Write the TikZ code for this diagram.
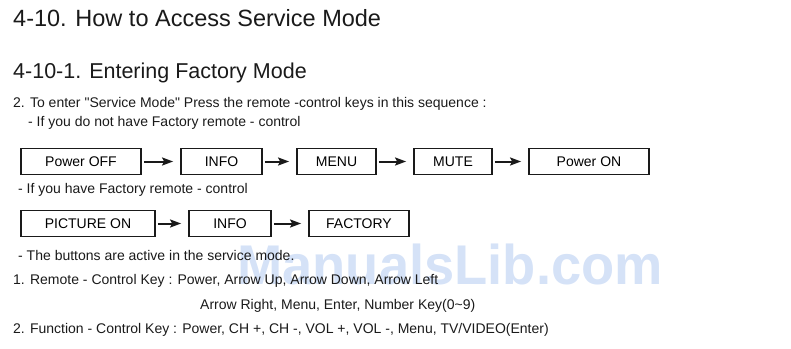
\documentclass[tikz,border=0pt]{standalone}
\usepackage{fontspec}
\setmainfont{Liberation Sans}
\usetikzlibrary{arrows.meta,positioning}
\usepackage{xcolor}
\definecolor{manualInk}{HTML}{1A1A1A}
\definecolor{manualMark}{HTML}{D5E2F7}

\tikzset{
  keybox/.style={draw=manualInk,line width=1.8pt,minimum height=26pt,inner sep=0pt,font=\fontsize{14}{16}\selectfont},
  keyarrow/.style={->,draw=manualInk,line width=2pt,shorten <=2pt,shorten >=7pt},
  bodytext/.style={anchor=base west,inner sep=0pt,text=manualInk,font=\fontsize{14}{16}\selectfont},
  headtext/.style={anchor=base west,inner sep=0pt,text=manualInk}
}

\begin{document}
\begin{tikzpicture}[x=1pt,y=-1pt,>={Stealth[length=11pt,width=8pt,inset=2pt]}]
\useasboundingbox (0,0) rectangle (791,348);
% watermark
\node[anchor=base west,inner sep=0pt,text=manualMark,xscale=0.97,font=\fontsize{56}{60}\selectfont\bfseries] (watermark) at (237,284) {ManualsLib.com};
% headings
\node[headtext,font=\fontsize{23.5}{26}\selectfont] (title) at (13,26) {4-10. How to Access Service Mode};
\node[headtext,font=\fontsize{21.5}{24}\selectfont] (subtitle) at (13,78) {4-10-1. Entering Factory Mode};
\node[bodytext] (intro) at (13,107) {2. To enter \textquotedbl Service Mode\textquotedbl{} Press the remote -control keys in this sequence :};
\node[bodytext] (noremote) at (28,126) {- If you do not have Factory remote - control};
% without factory remote
\foreach \i/\name/\xa/\xb in {0/Power OFF/21/141,1/INFO/181/262,2/MENU/297/376,3/MUTE/414/492,4/Power ON/529/649}{
  \pgfmathsetmacro{\w}{\xb-\xa}
  \node[keybox,minimum width=\w pt] (a\i) at ({(\xa+\xb)/2},161.5) {\name};
}
\foreach \i in {0,1,2,3}{\pgfmathtruncatemacro{\j}{\i+1}\draw[keyarrow] (a\i) -- (a\j);}
\node[bodytext] (hasremote) at (18,193) {- If you have Factory remote - control};
% with factory remote
\foreach \i/\name/\xa/\xb in {0/PICTURE ON/21/155,1/INFO/189/271,2/FACTORY/309/409}{
  \pgfmathsetmacro{\w}{\xb-\xa}
  \node[keybox,minimum width=\w pt] (b\i) at ({(\xa+\xb)/2},223.5) {\name};
}
\foreach \i in {0,1}{\pgfmathtruncatemacro{\j}{\i+1}\draw[keyarrow] (b\i) -- (b\j);}
\node[bodytext] (active) at (18,260) {- The buttons are active in the service mode.};
\node[bodytext] (remotekey) at (13,284) {1. Remote - Control Key : Power, Arrow Up, Arrow Down, Arrow Left};
\node[bodytext] (remotekeymore) at (200,309) {Arrow Right, Menu, Enter, Number Key(0\char`~9)};
\node[bodytext] (functionkey) at (13,333) {2. Function - Control Key : Power, CH +, CH -, VOL +, VOL -, Menu, TV/VIDEO(Enter)};
\end{tikzpicture}
\end{document}
